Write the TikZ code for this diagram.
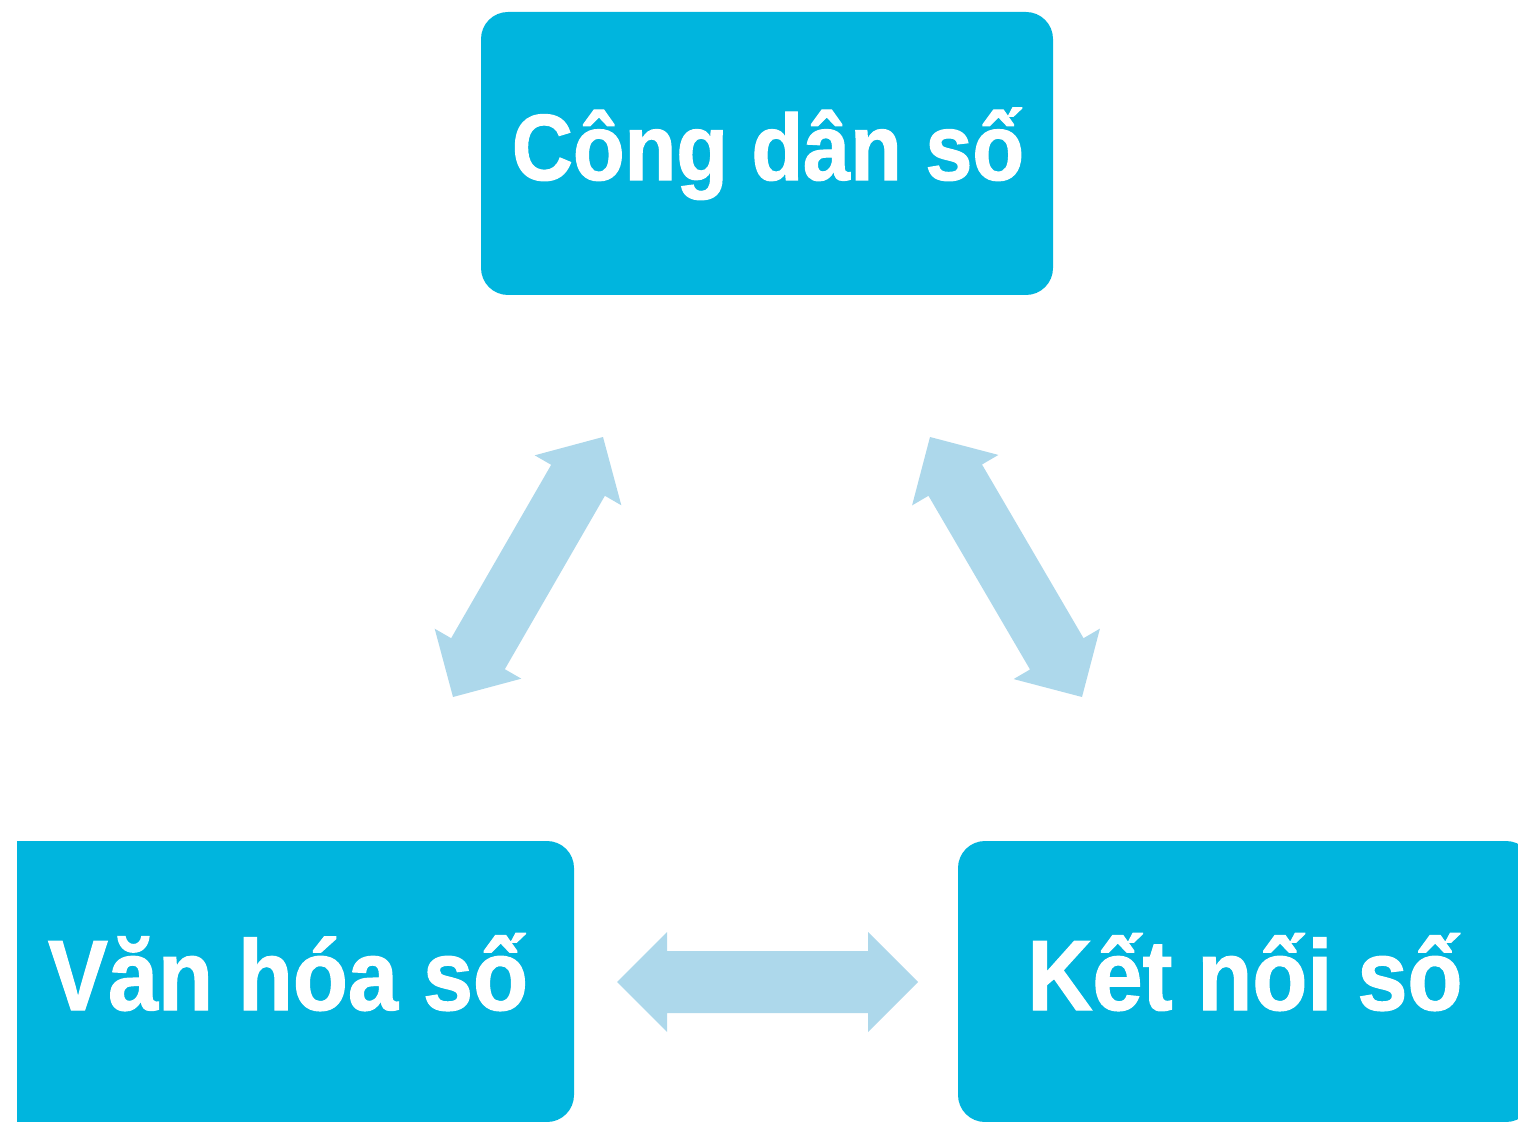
\documentclass[tikz,border=0pt]{standalone}
\usepackage{fontspec}
\newfontfamily\lblfont{Liberation Sans Bold}[FakeStretch=0.9,FakeBold=1.2]
\usetikzlibrary{calc}
\definecolor{boxc}{RGB}{0,181,222}
\definecolor{arrc}{RGB}{173,216,235}
\tikzset{
  box/.style={fill=boxc, draw=none, rounded corners=13.5pt, inner sep=0pt, outer sep=0pt},
  lbl/.style={text=white, font=\lblfont\fontsize{47}{52}\selectfont, inner sep=0pt, anchor=base},
  lblbig/.style={lbl, font=\lblfont\fontsize{50}{55}\selectfont},
  dblarrow/.style={fill=arrc, draw=none, to path={
    ($(\tikztostart)!25pt!(\tikztotarget)!25pt!90:(\tikztotarget)$) --
    (\tikztostart) --
    ($(\tikztostart)!25pt!(\tikztotarget)!25pt!-90:(\tikztotarget)$) --
    ($(\tikztostart)!25pt!(\tikztotarget)!15.5pt!-90:(\tikztotarget)$) --
    ($(\tikztotarget)!25pt!(\tikztostart)!15.5pt!90:(\tikztostart)$) --
    ($(\tikztotarget)!25pt!(\tikztostart)!25pt!90:(\tikztostart)$) --
    (\tikztotarget) --
    ($(\tikztotarget)!25pt!(\tikztostart)!25pt!-90:(\tikztostart)$) --
    ($(\tikztotarget)!25pt!(\tikztostart)!15.5pt!-90:(\tikztostart)$) --
    ($(\tikztostart)!25pt!(\tikztotarget)!15.5pt!90:(\tikztotarget)$) -- cycle}}
}
\begin{document}
\begin{tikzpicture}[x=0.5pt,y=-0.5pt]
\useasboundingbox (0,0) rectangle (1518,1122);
\clip (0,0) rectangle (1518,1122);
% boxes
\node[box, minimum width=286pt, minimum height=141.5pt] (cdsbox) at (767,153.5) {};
\begin{scope}
  \clip (17,0) rectangle (1518,1122);
  \node[box, minimum width=291pt, minimum height=140.5pt] (vhsbox) at (283,981.5) {};
\end{scope}
\node[box, minimum width=287.5pt, minimum height=140.5pt] (knsbox) at (1245.5,981.5) {};
% labels
\node[lbl] (cds) at (768,180) {Công dân số};
\node[lblbig] (vhs) at (288,1010) {Văn hóa số};
\node[lblbig] (kns) at (1245,1010) {Kết nối số};
% arrows
\coordinate (lA) at (453,697);
\coordinate (lB) at (603,437);
\coordinate (rA) at (930,437);
\coordinate (rB) at (1082,697);
\coordinate (hA) at (617,982);
\coordinate (hB) at (918,982);
\path[dblarrow] (lA) to (lB);
\path[dblarrow] (rA) to (rB);
\path[dblarrow] (hA) to (hB);
\end{tikzpicture}
\end{document}
